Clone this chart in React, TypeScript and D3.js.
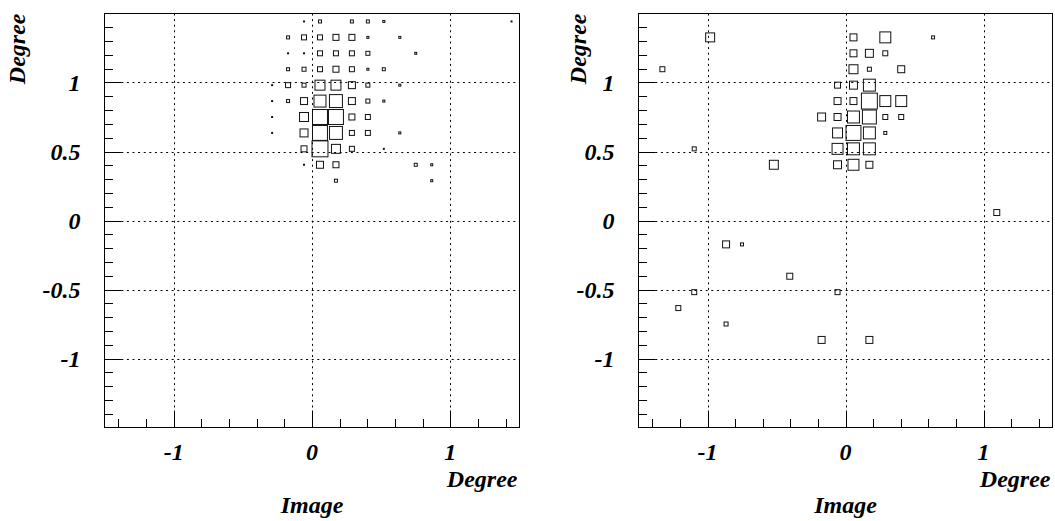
import React from "react";
import * as d3 from "d3";

// Histogram binning shared by both panels (26 x 26 bins over [-1.5, 1.5] degrees)
const N_BINS = 26;
const AXIS_MIN = -1.5;
const AXIS_MAX = 1.5;

// Cell contents: [x bin index, y bin index, entries]
const leftCells: [number, number, number][] = [
  [12, 25, 1], [13, 25, 3], [15, 25, 3], [16, 25, 3], [17, 25, 2], [25, 25, 1],
  [11, 24, 3], [12, 24, 5], [13, 24, 5], [14, 24, 6], [15, 24, 6], [16, 24, 2], [18, 24, 2],
  [11, 23, 1], [12, 23, 1], [13, 23, 5], [14, 23, 5], [15, 23, 5], [16, 23, 4], [19, 23, 2],
  [11, 22, 3], [12, 22, 4], [13, 22, 5], [14, 22, 6], [15, 22, 5], [16, 22, 2], [17, 22, 3],
  [10, 21, 1], [11, 21, 5], [12, 21, 4], [13, 21, 10], [14, 21, 10], [15, 21, 7], [16, 21, 4], [18, 21, 2],
  [10, 20, 1], [11, 20, 3], [12, 20, 7], [13, 20, 12], [14, 20, 13], [15, 20, 7], [16, 20, 4], [17, 20, 2],
  [10, 19, 1], [12, 19, 9], [13, 19, 15], [14, 19, 15], [15, 19, 6], [16, 19, 5],
  [10, 18, 1], [12, 18, 8], [13, 18, 15], [14, 18, 13], [15, 18, 5], [16, 18, 5], [18, 18, 2],
  [12, 17, 6], [13, 17, 16], [14, 17, 9], [15, 17, 5], [17, 17, 1],
  [12, 16, 1], [13, 16, 7], [14, 16, 6], [19, 16, 3], [20, 16, 2],
  [14, 15, 3], [20, 15, 2],
];

const rightCells: [number, number, number][] = [
  [4, 24, 9], [13, 24, 7], [15, 24, 11], [18, 24, 3],
  [13, 23, 7], [14, 23, 8], [15, 23, 5],
  [1, 22, 5], [13, 22, 9], [14, 22, 4], [16, 22, 7],
  [12, 21, 6], [13, 21, 8], [14, 21, 12],
  [12, 20, 7], [13, 20, 7], [14, 20, 16], [15, 20, 11], [16, 20, 11],
  [11, 19, 8], [12, 19, 7], [13, 19, 12], [14, 19, 14], [15, 19, 5], [16, 19, 5],
  [12, 18, 10], [13, 18, 15], [14, 18, 12], [15, 18, 3],
  [3, 17, 4], [12, 17, 11], [13, 17, 12], [14, 17, 12],
  [8, 16, 9], [12, 16, 8], [13, 16, 11], [14, 16, 7],
  [22, 13, 6],
  [5, 11, 7], [6, 11, 3],
  [9, 9, 6],
  [3, 8, 5], [12, 8, 5],
  [2, 7, 5],
  [5, 6, 4],
  [11, 5, 7], [14, 5, 7],
];

const xLabelTicks = [-1, 0, 1];
const yLabelTicks = [-1, -0.5, 0, 0.5, 1];
const xGrid = [-1, 0, 1];
const yGrid = [-1, -0.5, 0, 0.5, 1];

const xAxisTitle = "Degree";
const yAxisTitle = "Degree";
const histTitle = "Image";

const W = 1055;
const H = 521;

type PanelProps = {
  cells: [number, number, number][];
  x0: number;
  x1: number;
  yTitleX: number;
};

const TOP = 13.5;
const BOTTOM = 427.5;

const textProps = {
  fontFamily: "Liberation Serif",
  fontWeight: 700,
  fontStyle: "italic",
  fontSize: 24,
  fill: "#000",
};

function Panel({ cells, x0, x1, yTitleX }: PanelProps) {
  const x = d3.scaleLinear().domain([AXIS_MIN, AXIS_MAX]).range([x0, x1]);
  const y = d3.scaleLinear().domain([AXIS_MIN, AXIS_MAX]).range([BOTTOM, TOP]);
  const binW = (AXIS_MAX - AXIS_MIN) / N_BINS;
  const binCenter = (i: number) => AXIS_MIN + (i + 0.5) * binW;
  const binPxX = x(binW) - x(0);
  const binPxY = y(0) - y(binW);
  const nMax = d3.max(cells, (c) => c[2]) ?? 1;

  // minor ticks: 0.2 along x, 0.1 along y
  const xMinor = d3.range(-7, 8).map((i) => i * 0.2);
  const yMinor = d3.range(-14, 15).map((i) => i / 10);
  const isMajorX = (v: number) => Math.abs(v - Math.round(v)) < 1e-6;
  const isMajorY = (v: number) => Math.abs(v * 2 - Math.round(v * 2)) < 1e-6;

  return (
    <g>
      {/* grid */}
      {xGrid.map((v) => (
        <line key={"gx" + v} x1={Math.round(x(v)) + 0.5} x2={Math.round(x(v)) + 0.5} y1={TOP} y2={BOTTOM}
          stroke="#000" strokeWidth={1} strokeDasharray="2 3.6" />
      ))}
      {yGrid.map((v) => (
        <line key={"gy" + v} y1={Math.round(y(v)) + 0.5} y2={Math.round(y(v)) + 0.5} x1={x0} x2={x1}
          stroke="#000" strokeWidth={1} strokeDasharray="2 3.6" />
      ))}

      {/* boxes */}
      {cells.map(([ix, iy, n], i) => {
        const cx = x(binCenter(ix));
        const cy = y(binCenter(iy));
        const sw = (binPxX * n) / nMax;
        const sh = (binPxY * n) / nMax;
        return (
          <rect key={i} x={cx - sw / 2} y={cy - sh / 2} width={sw} height={sh}
            fill="none" stroke="#111" strokeWidth={1} />
        );
      })}

      {/* ticks */}
      {xMinor.map((v) => {
        const px = Math.round(x(v)) + 0.5;
        const len = isMajorX(v) ? 17 : 8.5;
        return <line key={"tx" + v} x1={px} x2={px} y1={BOTTOM} y2={BOTTOM - len} stroke="#000" strokeWidth={1} />;
      })}
      {yMinor.map((v) => {
        const py = Math.round(y(v)) + 0.5;
        const len = isMajorY(v) ? 17 : 8.5;
        return <line key={"ty" + v} y1={py} y2={py} x1={x0} x2={x0 + len} stroke="#000" strokeWidth={1} />;
      })}

      {/* frame */}
      <rect x={x0} y={TOP} width={x1 - x0} height={BOTTOM - TOP} fill="none" stroke="#000" strokeWidth={1} />

      {/* tick labels */}
      {xLabelTicks.map((v) => (
        <text key={"lx" + v} x={x(v)} y={460} textAnchor="middle" {...textProps}>{String(v)}</text>
      ))}
      {yLabelTicks.map((v) => (
        <text key={"ly" + v} x={x0 - 24} y={y(v) + 8} textAnchor="end" {...textProps}>{String(v)}</text>
      ))}

      {/* titles */}
      <text x={x1 - 2} y={487} textAnchor="end" {...textProps}>{xAxisTitle}</text>
      <text x={(x0 + x1) / 2} y={513} textAnchor="middle" {...textProps}>{histTitle}</text>
      <text transform={`translate(${yTitleX},${TOP}) rotate(-90)`} textAnchor="end" {...textProps}>{yAxisTitle}</text>
    </g>
  );
}

export default function App() {
  return (
    <svg width={W} height={H} style={{ position: "absolute", left: 0, top: 0, background: "#fff" }}>
      <rect x={0} y={0} width={W} height={H} fill="#fff" />
      <Panel cells={leftCells} x0={104.5} x1={519.5} yTitleX={25} />
      <Panel cells={rightCells} x0={638.5} x1={1052.5} yTitleX={586} />
    </svg>
  );
}
